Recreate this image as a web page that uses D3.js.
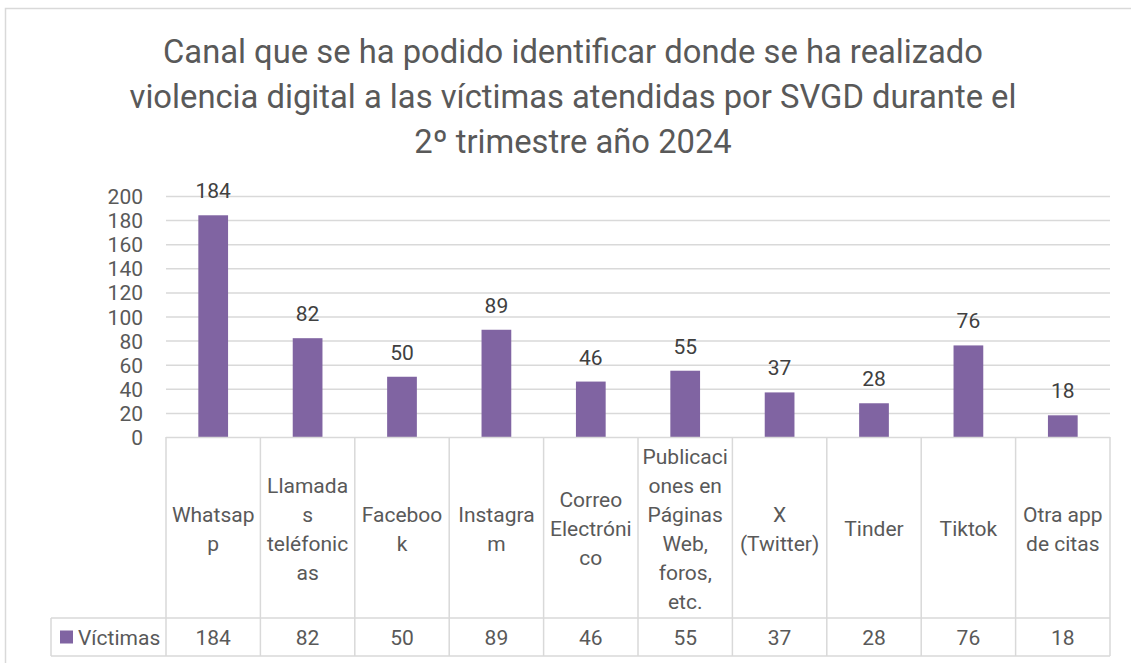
<!DOCTYPE html>
<html>
<head>
<meta charset="utf-8">
<script src="https://cdn.jsdelivr.net/npm/d3@7"></script>
<style>
  html, body { margin: 0; padding: 0; background: #fff; }
  svg { display: block; font-family: "Roboto", "Noto Sans", sans-serif; }
</style>
</head>
<body>
<div id="chart"></div>
<script>
// Chart data
const categories = ["Whatsapp", "Llamadas teléfonicas", "Facebook", "Instagram", "Correo Electrónico",
    "Publicaciones en Páginas Web, foros, etc.", "X (Twitter)", "Tinder", "Tiktok", "Otra app de citas"];
// wrapped labels as shown in the table header
const categoryLines = [
    ["Whatsap", "p"],
    ["Llamada", "s", "teléfonic", "as"],
    ["Faceboo", "k"],
    ["Instagra", "m"],
    ["Correo", "Electróni", "co"],
    ["Publicaci", "ones en", "Páginas", "Web,", "foros,", "etc."],
    ["X", "(Twitter)"],
    ["Tinder"],
    ["Tiktok"],
    ["Otra app", "de citas"]
];
const victimas = [184, 82, 50, 89, 46, 55, 37, 28, 76, 18];
const yTicks = [0, 20, 40, 60, 80, 100, 120, 140, 160, 180, 200];
const seriesName = "Víctimas";
const titleLines = [
    "Canal que se ha podido identificar donde se ha realizado",
    "violencia digital a las víctimas atendidas por SVGD durante el",
    "2º trimestre año 2024"
];

const width = 1131, height = 663;
const plot = { left: 166, right: 1110, top: 196, bottom: 437 };
const tableBottom = 656, headerBottom = 618, legendLeft = 51;

const barColor = "#8064A2";
const gridColor = "#D9D9D9";
const textColor = "#595959";

const svg = d3.select("#chart").append("svg")
    .attr("width", width)
    .attr("height", height);

// Chart frame (runs off the right and bottom edges)
svg.append("rect")
    .attr("x", 5.5).attr("y", 8.5)
    .attr("width", 1140).attr("height", 670)
    .attr("fill", "none")
    .attr("stroke", gridColor)
    .attr("stroke-width", 1.5);

// Title
const title = svg.append("g").attr("fill", textColor);
titleLines.forEach((line, i) => {
    title.append("text")
        .attr("x", 573)
        .attr("y", 63 + i * 45)
        .attr("text-anchor", "middle")
        .attr("font-size", 32)
        .text(line);
});
// fit first line to the reference width
const firstWidth = title.select("text").node().getComputedTextLength();
const titleSize = 32 * 820 / firstWidth;
title.selectAll("text").attr("font-size", titleSize);

// Scales
const x = d3.scaleBand()
    .domain(categories)
    .range([plot.left, plot.right])
    .paddingInner(0)
    .paddingOuter(0);

const y = d3.scaleLinear()
    .domain([0, 200])
    .range([plot.bottom, plot.top]);

// Gridlines
svg.append("g")
    .selectAll("line")
    .data(yTicks.filter(d => d > 0))
    .join("line")
    .attr("x1", plot.left).attr("x2", plot.right)
    .attr("y1", d => y(d) + 0.5).attr("y2", d => y(d) + 0.5)
    .attr("stroke", gridColor)
    .attr("stroke-width", 1.5);

// Y axis labels
const yAxis = svg.append("g")
    .attr("transform", `translate(${plot.left - 23},0)`)
    .call(d3.axisLeft(y).tickValues(yTicks).tickSize(0).tickPadding(0));
yAxis.select(".domain").remove();
yAxis.selectAll("text")
    .attr("fill", textColor)
    .attr("font-size", 21)
    .attr("font-family", "Roboto, sans-serif")
    .attr("dy", "0.36em");

// Bars
const barWidth = x.bandwidth() * 0.315;
svg.append("g")
    .selectAll("rect")
    .data(victimas)
    .join("rect")
    .attr("x", (d, i) => x(categories[i]) + (x.bandwidth() - barWidth) / 2)
    .attr("y", d => y(d))
    .attr("width", barWidth)
    .attr("height", d => y(0) - y(d))
    .attr("fill", barColor);

// Data labels
svg.append("g")
    .selectAll("text")
    .data(victimas)
    .join("text")
    .attr("x", (d, i) => x(categories[i]) + x.bandwidth() / 2)
    .attr("y", d => y(d) - 17)
    .attr("text-anchor", "middle")
    .attr("font-size", 21)
    .attr("fill", "#404040")
    .text(d => d);

// Data table
const table = svg.append("g")
    .attr("stroke", gridColor)
    .attr("stroke-width", 1.5)
    .attr("fill", "none");

table.append("line")
    .attr("x1", plot.left).attr("x2", plot.right)
    .attr("y1", plot.bottom + 0.5).attr("y2", plot.bottom + 0.5);
table.append("line")
    .attr("x1", legendLeft).attr("x2", plot.right)
    .attr("y1", headerBottom).attr("y2", headerBottom);
table.append("line")
    .attr("x1", legendLeft).attr("x2", plot.right)
    .attr("y1", tableBottom).attr("y2", tableBottom);
table.append("line")
    .attr("x1", legendLeft).attr("x2", legendLeft)
    .attr("y1", headerBottom).attr("y2", tableBottom);
table.selectAll("line.col")
    .data(categories.concat(["end"]))
    .join("line")
    .attr("class", "col")
    .attr("x1", (d, i) => plot.left + i * x.bandwidth())
    .attr("x2", (d, i) => plot.left + i * x.bandwidth())
    .attr("y1", plot.bottom)
    .attr("y2", tableBottom);

// Header labels
const lineHeight = 29;
const headerMid = (plot.bottom + headerBottom) / 2 + 1;
svg.append("g")
    .selectAll("text")
    .data(categoryLines)
    .join("text")
    .attr("text-anchor", "middle")
    .attr("font-size", 21)
    .attr("fill", textColor)
    .each(function(lines, i) {
        const cx = x(categories[i]) + x.bandwidth() / 2;
        const startY = headerMid - (lines.length - 1) * lineHeight / 2;
        d3.select(this).selectAll("tspan")
            .data(lines)
            .join("tspan")
            .attr("x", cx)
            .attr("y", (l, j) => startY + j * lineHeight)
            .attr("dy", "0.36em")
            .text(l => l);
    });

// Value row
const rowMid = (headerBottom + tableBottom) / 2;
svg.append("g")
    .selectAll("text")
    .data(victimas)
    .join("text")
    .attr("x", (d, i) => x(categories[i]) + x.bandwidth() / 2)
    .attr("y", rowMid)
    .attr("dy", "0.36em")
    .attr("text-anchor", "middle")
    .attr("font-size", 21)
    .attr("fill", textColor)
    .text(d => d);

// Legend key in row header
svg.append("rect")
    .attr("x", 60).attr("y", rowMid - 6.5)
    .attr("width", 13).attr("height", 13)
    .attr("fill", barColor);
svg.append("text")
    .attr("x", 78).attr("y", rowMid)
    .attr("dy", "0.36em")
    .attr("font-size", 21)
    .attr("fill", textColor)
    .text(seriesName);
</script>
</body>
</html>
